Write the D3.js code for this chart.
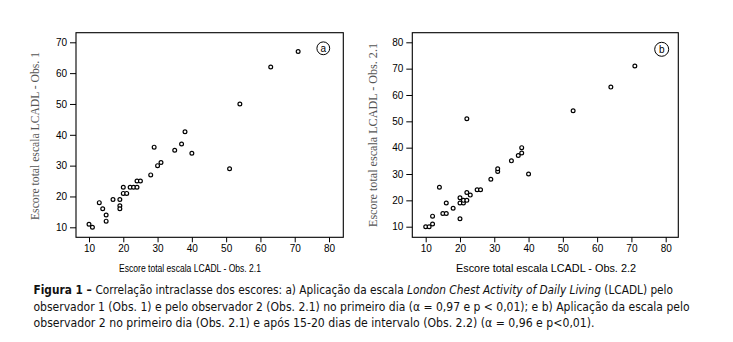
<!DOCTYPE html>
<html><head><meta charset="utf-8">
<script src="https://cdn.jsdelivr.net/npm/d3@7"></script>
<style>body{margin:0;background:#fff}svg{display:block}</style>
</head><body>
<svg id="c" width="733" height="342"></svg>
<script>
// Panel a: x = Obs. 2.1, y = Obs. 1
const aX = [10,11,13,14,15,15,17,19,19,19,20,20,21,22,23,24,24,25,28,29,30,31,35,37,38,40,51,54,63,71];
const aY = [11,10,18,16,14,12,19,19,17,16,23,21,21,23,23,23,25,25,27,36,30,31,35,37,41,34,29,50,62,67];
// Panel b: x = Obs. 2.2, y = Obs. 2.1
const bX = [10,11,12,12,14,15,16,16,18,20,20,20,21,21,22,22,23,25,26,29,31,31,35,37,38,38,40,22,53,64,71];
const bY = [10,10,11,14,25,15,15,19,17,13,19,21,19,20,20,23,22,24,24,28,31,32,35,37,38,40,30,51,54,63,71];
const aYTicks = [10,20,30,40,50,60,70];
const bYTicks = [10,20,30,40,50,60,70,80];
const xTicks = [10,20,30,40,50,60,70,80];
const captionLines = [
  [["b","Figura 1 – "],["n","Correlação intraclasse dos escores: a) Aplicação da escala "],["i","London Chest Activity of Daily Living"],["n"," (LCADL) pelo"]],
  [["n","observador 1 (Obs. 1) e pelo observador 2 (Obs. 2.1) no primeiro dia (α = 0,97 e p < 0,01); e b) Aplicação da escala pelo"]],
  [["n","observador 2 no primeiro dia (Obs. 2.1) e após 15-20 dias de intervalo (Obs. 2.2) (α = 0,96 e p<0,01)."]]
];

const svg = d3.select("#c");
const tickFont = "Liberation Sans, Arial, sans-serif";

function panel(cfg){
  const g = svg.append("g");
  const x = d3.scaleLinear().domain([10,80]).range(cfg.xr);
  const y = d3.scaleLinear().domain([10,cfg.ymax]).range(cfg.yr);
  g.append("rect").attr("x",cfg.box[0]).attr("y",cfg.box[1])
    .attr("width",cfg.box[2]-cfg.box[0]).attr("height",cfg.box[3]-cfg.box[1])
    .attr("fill","none").attr("stroke","#000").attr("stroke-width",1.1);
  const xa = g.append("g").attr("transform",`translate(0,${cfg.box[3]})`)
    .call(d3.axisBottom(x).tickValues(xTicks).tickSize(5).tickPadding(3));
  const ya = g.append("g").attr("transform",`translate(${cfg.box[0]},0)`)
    .call(d3.axisLeft(y).tickValues(cfg.yTicks).tickSize(6).tickPadding(3));
  [xa,ya].forEach(a=>{
    a.select(".domain").remove();
    a.selectAll("line").attr("stroke","#000");
    a.selectAll("text").attr("fill","#000").style("font-family",tickFont).style("font-size","10px");
  });
  g.selectAll("circle.pt").data(cfg.xs.map((v,i)=>[v,cfg.ys[i]])).join("circle")
    .attr("class","pt").attr("cx",d=>x(d[0])).attr("cy",d=>y(d[1])).attr("r",1.9)
    .attr("fill","#fff").attr("stroke","#000").attr("stroke-width",1.2);
  g.append("text").attr("x",cfg.xl[0]).attr("y",cfg.xl[1]).attr("text-anchor","middle")
    .attr("textLength",cfg.xl[2]).attr("lengthAdjust","spacingAndGlyphs")
    .style("font-family",tickFont).style("font-size",cfg.xl[3]+"px").attr("fill","#000").text(cfg.xlabel);
  g.append("text").attr("transform",`translate(${cfg.yl[0]},${cfg.yl[1]}) rotate(-90)`)
    .attr("text-anchor","middle").attr("dy","0.35em")
    .attr("textLength",cfg.yl[2]).attr("lengthAdjust","spacingAndGlyphs")
    .style("font-family","Liberation Serif, Times New Roman, serif").style("font-size","12px")
    .attr("fill","#555").text(cfg.ylabel);
  g.append("circle").attr("cx",cfg.lab[0]).attr("cy",cfg.lab[1]).attr("r",cfg.lab[2])
    .attr("fill","#fff").attr("stroke","#000").attr("stroke-width",1);
  g.append("text").attr("x",cfg.lab[0]).attr("y",cfg.lab[1]).attr("dy","0.33em").attr("text-anchor","middle")
    .style("font-family",tickFont).style("font-size","10px").text(cfg.letter);
}

panel({xr:[89,329], yr:[227.3,42.3], ymax:70, yTicks:aYTicks, box:[76,32.7,343.3,237.3],
  xs:aX, ys:aY, xlabel:"Escore total escala LCADL - Obs. 2.1", xl:[190,272,142,10.5],
  ylabel:"Escore total escala LCADL - Obs. 1", yl:[35,136,168], lab:[323.3,48.3,6.4], letter:"a"});
panel({xr:[425.7,665.7], yr:[226.7,42.3], ymax:80, yTicks:bYTicks, box:[412.3,32.7,678.3,237.3],
  xs:bX, ys:bY, xlabel:"Escore total escala LCADL - Obs. 2.2", xl:[546,272,180,11],
  ylabel:"Escore total escala LCADL - Obs. 2.1", yl:[373,135,184], lab:[661.7,49.3,7], letter:"b"});

// caption
const capFont = "Liberation Sans Narrow, DejaVu Sans Condensed, Liberation Sans, sans-serif";
const lineY = [294, 310.5, 327];
const lineW = [639.5, 656, 561];
captionLines.forEach((parts,i)=>{
  const t = svg.append("text").attr("x",33.5).attr("y",lineY[i])
    .attr("textLength",lineW[i]).attr("lengthAdjust","spacingAndGlyphs")
    .style("font-family",capFont).style("font-size","12px").attr("fill","#111");
  parts.forEach(p=>{
    const s = t.append("tspan").text(p[1]);
    if(p[0]==="b") s.style("font-weight","bold");
    if(p[0]==="i") s.style("font-style","italic");
  });
});
</script>
</body></html>
